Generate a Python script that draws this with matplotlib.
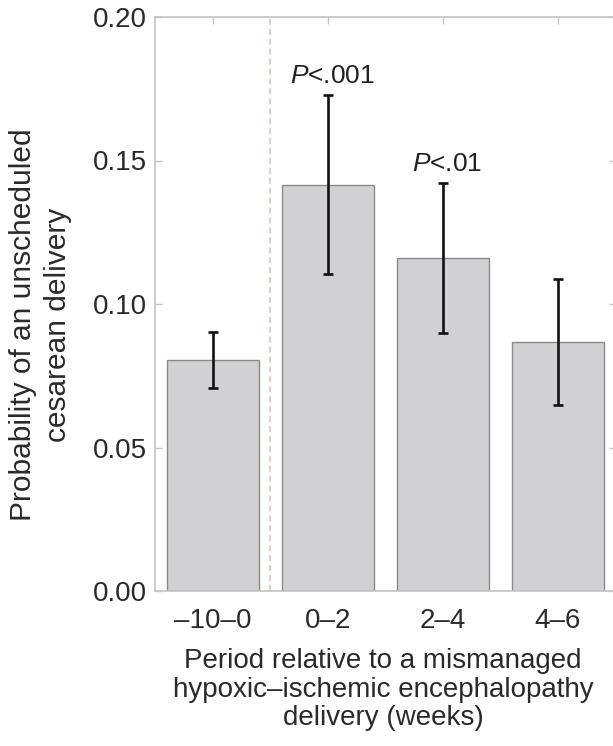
import matplotlib
matplotlib.use("Agg")
import matplotlib.pyplot as plt
import numpy as np

categories = ["\u201310\u20130", "0\u20132", "2\u20134", "4\u20136"]
values = [0.0804, 0.1415, 0.1159, 0.0869]
err_low = [0.0708, 0.1103, 0.0900, 0.0648]
err_high = [0.0904, 0.1728, 0.1420, 0.1087]
p_labels = ["", "$P$<.001", "$P$<.01", ""]
y_ticks = [0.00, 0.05, 0.10, 0.15, 0.20]
y_tick_labels = ["0.00", "0.05", "0.10", "0.15", "0.20"]

plt.rcParams['font.family'] = ['Liberation Sans', 'DejaVu Sans']
plt.rcParams['mathtext.fontset'] = 'custom'
plt.rcParams['mathtext.it'] = 'Liberation Sans:italic'
plt.rcParams['mathtext.rm'] = 'Liberation Sans'

W, H = 613, 746
fig = plt.figure(figsize=(W / 100, H / 100), dpi=100)
ax = fig.add_axes([155 / W, (H - 591) / H, 461 / W, 574 / H])

x = np.arange(len(categories))
vals = np.array(values)
lo = vals - np.array(err_low)
hi = np.array(err_high) - vals

ax.bar(x, vals, width=0.8, color="#d1d1d3", edgecolor="#8a8a8a", linewidth=1.0, zorder=2)
ax.errorbar(x, vals, yerr=[lo, hi], fmt="none", ecolor="#111111", elinewidth=1.9,
            capsize=3.5, capthick=1.9, zorder=3)
ax.axvline(0.5, color="#d8c0ac", linestyle=(0, (4, 2.5)), linewidth=1.1, zorder=1)

for xi, lab, top in zip(x, p_labels, err_high):
    if lab:
        ax.annotate(lab, xy=(xi, top), xytext=(3, 9), textcoords="offset points",
                    ha="center", va="baseline", fontsize=19, color="#222222")

ax.set_xlim(-0.504, 3.504)
ax.set_ylim(0, 0.2)
ax.set_xticks(x)
ax.set_xticklabels(categories)
ax.set_yticks(y_ticks)
ax.set_yticklabels(y_tick_labels)

for s in ax.spines.values():
    s.set_color("#c4c4c4")
    s.set_linewidth(1.2)

ax.tick_params(axis="both", which="both", direction="in", length=5, width=1.0,
               color="#c4c4c4", labelsize=20, labelcolor="#2a2a2a",
               top=True, right=True)
ax.tick_params(axis="y", pad=6)
ax.tick_params(axis="x", pad=12)

ax.set_ylabel("Probability of an unscheduled\ncesarean delivery", fontsize=21.5,
              color="#2a2a2a", linespacing=1.3)
ax.yaxis.set_label_coords(-0.180, 0.464)
ax.set_xlabel("Period relative to a mismanaged\nhypoxic\u2013ischemic encephalopathy\ndelivery (weeks)",
              fontsize=20, color="#2a2a2a", linespacing=1.12)
ax.xaxis.set_label_coords(0.4946, -0.100)

fig.savefig("out.png", dpi=100)
